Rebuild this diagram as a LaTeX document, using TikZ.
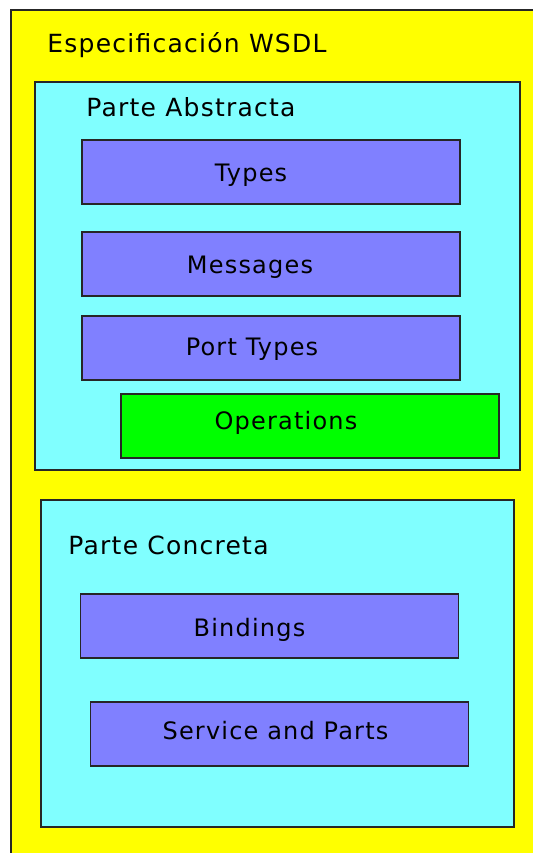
\documentclass[tikz,border=0pt]{standalone}
\usepackage{fontspec}
\setmainfont[LetterSpace=5]{DejaVu Sans}
\usetikzlibrary{positioning}

\definecolor{wsdlyellow}{HTML}{FFFF00}
\definecolor{partecyan}{HTML}{80FFFF}
\definecolor{blockblue}{HTML}{8080FF}
\definecolor{opgreen}{HTML}{00FF00}

\begin{document}
\begin{tikzpicture}[
			x=0.5pt, y=-0.5pt,
			frame/.style={
				draw=black!85,
				line width=0.75pt,
				inner sep=0pt,
				outer sep=0pt
			},
			wsdl/.style={
				frame,
				fill=wsdlyellow,
				anchor=north west,
				minimum width=265pt,
				minimum height=425pt
			},
			parte/.style={
				frame,
				fill=partecyan,
				anchor=north west
			},
			block/.style={
				frame,
				fill=blockblue,
				minimum width=189pt,
				minimum height=32pt
			},
			heading/.style={
				anchor=west,
				inner sep=0pt,
				font=\fontsize{12.5}{15}\selectfont
			},
			blocklabel/.style={
				inner sep=0pt,
				font=\fontsize{12}{14}\selectfont
			}
			]
			
			\useasboundingbox (0,0) rectangle (533,853);
			\clip (0,0) rectangle (533,853);
			
			% Outer frame: Especificacion WSDL
			\node[wsdl] (spec) at (11,10) {};
			\node[heading] (spectitle) at ([xshift=18pt, yshift=-17.5pt]spec.north west) {Especificación WSDL};
			
			% Parte Abstracta
			\node[parte, minimum width=242.5pt, minimum height=194pt] (abstracta) at (35,82) {};
			\node[heading] (abstitle) at ([xshift=25.5pt, yshift=-12.5pt]abstracta.north west) {Parte Abstracta};
			
			\node[block, label={[blocklabel, xshift=-10pt, yshift=-1.5pt]center:Types}] (types) at (271,172) {};
			\node[block, below=14pt of types, label={[blocklabel, xshift=-10.5pt, yshift=-1.5pt]center:Messages}] (messages) {};
			\node[block, below=10pt of messages, label={[blocklabel, xshift=-9.5pt, yshift=-0.5pt]center:Port Types}] (porttypes) {};
			\node[block, fill=opgreen, below=7pt of porttypes, xshift=19.5pt, label={[blocklabel, xshift=-12pt, yshift=1.5pt]center:Operations}] (operations) {};
			
			% Parte Concreta
			\node[parte, minimum width=236.5pt, minimum height=163.5pt] (concreta) at (41,500) {};
			\node[heading] (contitle) at ([xshift=13.5pt, yshift=-22.5pt]concreta.north west) {Parte Concreta};
			
			\node[block, label={[blocklabel, xshift=-10pt, yshift=-2pt]center:Bindings}] (bindings) at (269.5,626) {};
			\node[block, below=22pt of bindings, xshift=5pt, label={[blocklabel, xshift=-2pt, yshift=1.5pt]center:Service and Parts}] (service) {};
			
		\end{tikzpicture}
\end{document}
